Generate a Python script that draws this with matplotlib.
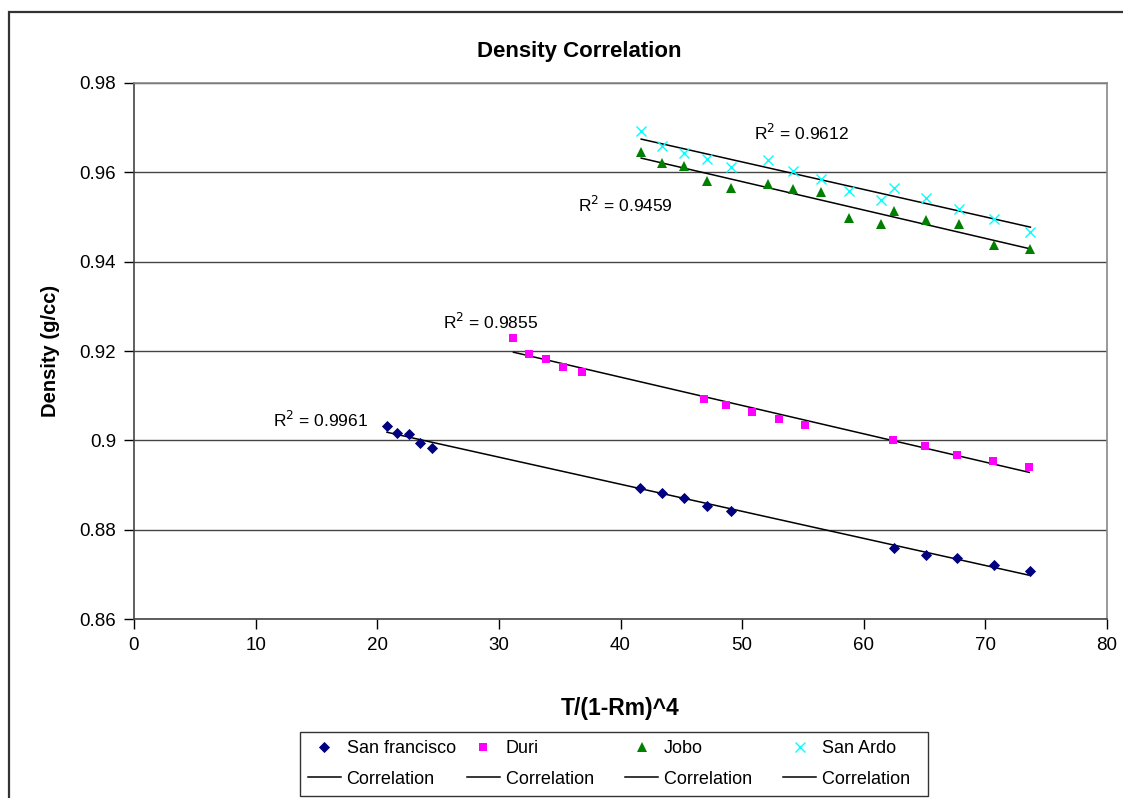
import numpy as np
import matplotlib
matplotlib.use("Agg")
import matplotlib.pyplot as plt
from matplotlib.patches import Rectangle
from matplotlib.ticker import FuncFormatter, MultipleLocator
from matplotlib.lines import Line2D

plt.rcParams['font.family'] = ['Liberation Sans', 'DejaVu Sans']

# San francisco
sf_x = [20.8, 21.6, 22.6, 23.5, 24.5, 41.6, 43.4, 45.2, 47.1, 49.1, 62.5, 65.1, 67.7, 70.7, 73.7]
sf_y = [0.9033, 0.9017, 0.9014, 0.8995, 0.8982, 0.8893, 0.8881, 0.8870, 0.8854, 0.8842,
        0.8758, 0.8743, 0.8737, 0.8720, 0.8707]

# Duri
duri_x = [31.2, 32.5, 33.9, 35.3, 36.8, 46.9, 48.7, 50.8, 53.0, 55.2, 62.4, 65.0, 67.7, 70.6, 73.6]
duri_y = [0.9228, 0.9193, 0.9181, 0.9165, 0.9153, 0.9092, 0.9078, 0.9063, 0.9047, 0.9035,
          0.9001, 0.8987, 0.8967, 0.8954, 0.8940]

# Jobo
jobo_x = [41.7, 43.4, 45.2, 47.1, 49.1, 52.1, 54.2, 56.5, 58.8, 61.4, 62.5, 65.1, 67.8, 70.7, 73.7]
jobo_y = [0.9646, 0.9622, 0.9615, 0.9581, 0.9564, 0.9574, 0.9563, 0.9555, 0.9497, 0.9484,
          0.9513, 0.9493, 0.9484, 0.9437, 0.9428]

# San Ardo
ardo_x = [41.7, 43.4, 45.2, 47.1, 49.1, 52.1, 54.2, 56.5, 58.8, 61.4, 62.5, 65.1, 67.8, 70.7, 73.7]
ardo_y = [0.9693, 0.9659, 0.9644, 0.9629, 0.9613, 0.9628, 0.9604, 0.9584, 0.9559, 0.9537,
          0.9564, 0.9543, 0.9518, 0.9496, 0.9466]

r2_labels = ["0.9961", "0.9855", "0.9459", "0.9612"]
r2_pos = [(11.4, 0.9046), (25.4, 0.9265), (36.5, 0.9527), (51.0, 0.9688)]

fig = plt.figure(figsize=(11.23, 7.98), dpi=100)
ax = fig.add_axes([0.1193, 0.2243, 0.8665, 0.6717])

# frame round the whole chart
fig.patches.append(Rectangle((0.008, -0.05), 1.05, 1.035, transform=fig.transFigure,
                             fill=False, edgecolor='#333333', linewidth=1.6))

series = [
    ("San francisco", sf_x, sf_y, dict(marker='D', color='#000080', ms=4.8, mew=0.6)),
    ("Duri", duri_x, duri_y, dict(marker='s', color='#FF00FF', ms=6.2, mew=0)),
    ("Jobo", jobo_x, jobo_y, dict(marker='^', color='#008000', ms=7, mew=0)),
    ("San Ardo", ardo_x, ardo_y, dict(marker='x', color='#00FFFF', ms=7.5, mew=1.0)),
]
# trailing spaces so the legend columns come out about equally wide
corr_labels = ["Correlation", "Correlation    ", "Correlation    ", "Correlation  "]

handles = []
labels = []
for (name, x, y, st), clab in zip(series, corr_labels):
    x = np.array(x)
    y = np.array(y)
    pts, = ax.plot(x, y, linestyle='none', marker=st['marker'], color=st['color'],
                   markersize=st['ms'], markeredgewidth=st['mew'], zorder=3)
    k, b = np.polyfit(x, y, 1)
    xx = np.array([x.min(), x.max()])
    ax.plot(xx, k * xx + b, color='black', linewidth=1.1, zorder=2)
    handles += [pts, Line2D([], [], color='black', linewidth=1.1)]
    labels += [name, clab]

for lab, (tx, ty) in zip(r2_labels, r2_pos):
    ax.text(tx, ty, "R$^2$ = " + lab, fontsize=12.5, va='center', ha='left')

ax.set_xlim(0, 80)
ax.set_ylim(0.86, 0.98)
ax.xaxis.set_major_locator(MultipleLocator(10))
ax.yaxis.set_major_locator(MultipleLocator(0.02))
ax.yaxis.set_major_formatter(FuncFormatter(lambda v, p: "%g" % round(v, 2)))
ax.tick_params(direction='out', length=7, width=1, labelsize=13.5, pad=6)
ax.yaxis.grid(True, color='#444444', linewidth=1)
ax.set_axisbelow(True)
for s in ['top', 'right']:
    ax.spines[s].set_color('#888888')
    ax.spines[s].set_linewidth(1.2)
for s in ['left', 'bottom']:
    ax.spines[s].set_color('#444444')
    ax.spines[s].set_linewidth(1.2)

fig.text(0.5156, 1 - 52 / 798, "Density Correlation", fontsize=16, fontweight='bold',
         ha='center', va='center')
ax.set_xlabel("T/(1-Rm)^4", fontsize=16.5, fontweight='bold')
ax.xaxis.set_label_coords(0.5, -0.145)
ax.set_ylabel("Density (g/cc)", fontsize=14.5, fontweight='bold')
ax.yaxis.set_label_coords(-0.076, 0.5)

leg = fig.legend(handles, labels, ncol=4, loc='upper center', bbox_to_anchor=(0.5468, 1 - 732 / 798),
                 fontsize=13, frameon=True, fancybox=False, edgecolor='black',
                 handlelength=1.8, handletextpad=0.33, columnspacing=0.64, labelspacing=0.75,
                 borderpad=0.45, borderaxespad=0)
leg.get_frame().set_linewidth(1)

fig.savefig("out.png", dpi=100)
